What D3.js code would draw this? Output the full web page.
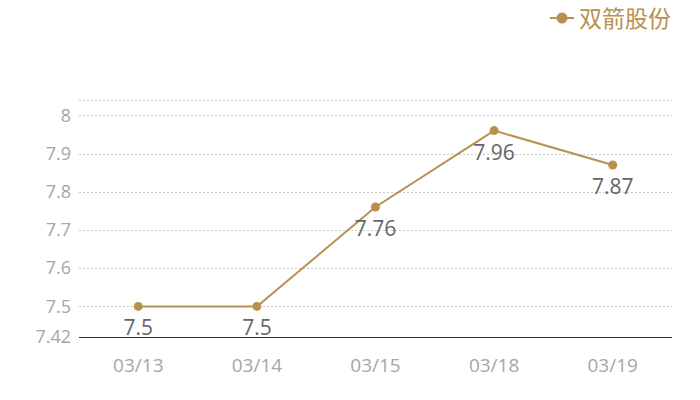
<!DOCTYPE html>
<html><head><meta charset="utf-8">
<script src="https://cdn.jsdelivr.net/npm/d3@7"></script>
<style>body{margin:0;background:#fff;}svg{display:block;font-family:"Open Sans","Noto Sans CJK SC",sans-serif;}</style>
</head><body><svg id="c" width="700" height="400"></svg>
<script>
const categories = ["03/13","03/14","03/15","03/18","03/19"];
const values = [7.5,7.5,7.76,7.96,7.87];
const yTicks = [7.5,7.6,7.7,7.8,7.9,8];
const seriesName = "双箭股份";
const yMin = 7.42, yMax = 8.04;

(function(){
const svg = d3.select("#c");
const color = "#b8914f";
const mLeft = 79, mRight = 672, mTop = 100, mBottom = 337;
const x = d3.scaleBand().domain(categories).range([mLeft, mRight]);
const y = d3.scaleLinear().domain([yMin, yMax]).range([mBottom, mTop]);

// grid
const gridVals = yTicks.concat([yMax]);
svg.append("g").selectAll("line").data(gridVals).join("line")
  .attr("x1", mLeft).attr("x2", mRight)
  .attr("y1", d => Math.round(y(d)) + 0.5).attr("y2", d => Math.round(y(d)) + 0.5)
  .attr("stroke", "#c8c8c8").attr("stroke-dasharray", "2,2").attr("stroke-width", 1);

// y labels
svg.append("g").selectAll("text").data(yTicks.concat([yMin])).join("text")
  .attr("x", 71).attr("y", d => y(d)).attr("dy", "0.35em")
  .attr("text-anchor", "end").attr("fill", "#a6a6a6").attr("font-size", 18)
  .text(d => d);

// x axis line
const xAxis = d3.axisBottom(x).tickSize(0).tickPadding(22);
const gx = svg.append("g").attr("transform", `translate(0,${mBottom})`).call(xAxis);
gx.select(".domain").attr("stroke", "#333").attr("d", `M${mLeft},0.5H${mRight}`);
gx.selectAll("text").attr("fill", "#a6a6a6").attr("font-size", 19)
  .attr("font-family", "'Open Sans',sans-serif");

// line
const line = d3.line().x((d,i) => x(categories[i]) + x.bandwidth()/2).y(d => y(d));
svg.append("path").datum(values).attr("d", line)
  .attr("fill", "none").attr("stroke", color).attr("stroke-width", 2);

svg.append("g").selectAll("circle").data(values).join("circle")
  .attr("cx", (d,i) => x(categories[i]) + x.bandwidth()/2).attr("cy", d => y(d))
  .attr("r", 4.5).attr("fill", color);

svg.append("g").selectAll("text").data(values).join("text")
  .attr("x", (d,i) => x(categories[i]) + x.bandwidth()/2).attr("y", d => y(d) + 29)
  .attr("text-anchor", "middle").attr("fill", "#666").attr("font-size", 21)
  .text(d => d);

// legend
const lg = svg.append("g");
lg.append("line").attr("x1", 550).attr("x2", 574).attr("y1", 18).attr("y2", 18)
  .attr("stroke", color).attr("stroke-width", 2);
lg.append("circle").attr("cx", 562).attr("cy", 18).attr("r", 5.5).attr("fill", color);
lg.append("text").attr("x", 579).attr("y", 19).attr("dy", "0.35em")
  .attr("fill", color).attr("font-size", 23).attr("font-family", "'Noto Sans CJK SC',sans-serif")
  .text(seriesName);
})();
</script></body></html>
